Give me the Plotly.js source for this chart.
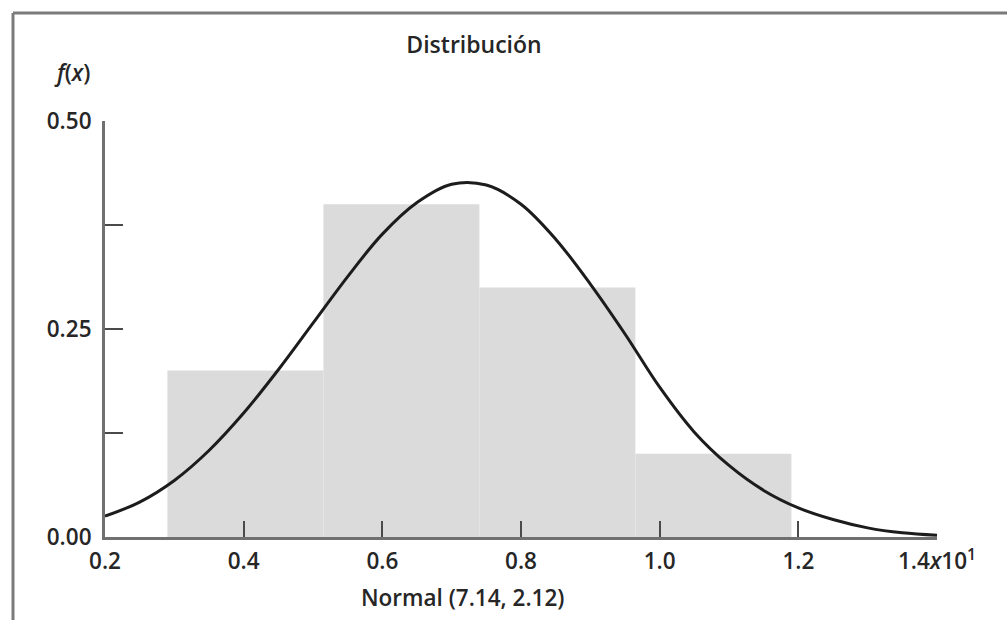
<!DOCTYPE html>
<html>
<head>
<meta charset="utf-8">
<script src="https://cdn.plot.ly/plotly-3.0.1.min.js"></script>
<style>
  html, body { margin: 0; padding: 0; background: #ffffff; }
  #chart { width: 1007px; height: 620px; }
</style>
</head>
<body>
<div id="chart"></div>
<script>
// Histogram (relative frequency), x in units of 10
const binEdges = [0.29, 0.515, 0.74, 0.965, 1.19];
const relFreq = [0.20, 0.40, 0.30, 0.10];

// Fitted normal curve
const curveX = [0.20, 0.25, 0.30, 0.35, 0.40, 0.45, 0.50, 0.55, 0.60, 0.65, 0.70, 0.75, 0.80, 0.85, 0.90, 0.95, 1.00, 1.05, 1.10, 1.15, 1.20, 1.25, 1.30, 1.35, 1.40];
const curveY = [0.025, 0.042, 0.068, 0.104, 0.149, 0.201, 0.257, 0.313, 0.364, 0.402, 0.424, 0.423, 0.400, 0.358, 0.304, 0.244, 0.180, 0.126, 0.086, 0.056, 0.035, 0.021, 0.011, 0.005, 0.002];

// Axis ticks
const xTickVals = [0.2, 0.4, 0.6, 0.8, 1.0, 1.2, 1.4];
const xTickText = ['0.2', '0.4', '0.6', '0.8', '1.0', '1.2', '1.4<i>x</i>10<sup>1</sup>'];
const yTickVals = [0, 0.25, 0.5];
const yTickText = ['0.00', '0.25', '0.50'];
const yMinorStep = 0.125;

const titleText = 'Distribución';
const xLabel = 'Normal (7.14, 2.12)';
const yLabel = '<i>f</i>(<i>x</i>)';

const barX = [], barW = [];
for (let i = 0; i < relFreq.length; i++) {
  barX.push((binEdges[i] + binEdges[i + 1]) / 2);
  barW.push(binEdges[i + 1] - binEdges[i]);
}

const FONT = '"Open Sans", "Noto Sans", sans-serif';
const TXT = '#262626';
const FS = 22.5;

const traces = [
  {
    type: 'bar', x: barX, y: relFreq, width: barW,
    marker: { color: '#dbdbdb', line: { width: 0 } },
    hoverinfo: 'skip', showlegend: false
  },
  {
    type: 'scatter', mode: 'lines', x: curveX, y: curveY,
    line: { color: '#1c1c1c', width: 3, shape: 'spline', smoothing: 1 },
    hoverinfo: 'skip', showlegend: false
  }
];

const layout = {
  width: 1007, height: 620,
  margin: { l: 105, r: 70, t: 121, b: 83, pad: 0 },
  paper_bgcolor: '#ffffff', plot_bgcolor: '#ffffff',
  font: { family: FONT, size: FS, color: TXT, weight: 600 },
  showlegend: false,
  title: {
    text: titleText,
    font: { family: FONT, size: 23, color: TXT, weight: 600 },
    x: 0.4435, xref: 'paper', xanchor: 'center',
    y: 1 - 45 / 620, yref: 'container', yanchor: 'middle'
  },
  xaxis: {
    range: [0.2, 1.4], showgrid: false, zeroline: false,
    showline: true, linecolor: '#707070', linewidth: 3,
    ticks: 'inside', ticklen: 16, tickwidth: 2, tickcolor: '#4a4a4a',
    tickmode: 'array', tickvals: xTickVals, ticktext: xTickText,
    tickfont: { family: FONT, size: FS, color: TXT, weight: 600 },
    ticklabelstandoff: 2,
    fixedrange: true
  },
  yaxis: {
    range: [0, 0.5], showgrid: false, zeroline: false,
    showline: true, linecolor: '#707070', linewidth: 3,
    ticks: 'inside', ticklen: 18, tickwidth: 2, tickcolor: '#4a4a4a',
    tickmode: 'array', tickvals: yTickVals, ticktext: yTickText,
    minor: { tick0: 0, dtick: yMinorStep, ticks: 'inside', ticklen: 18, tickwidth: 2, tickcolor: '#4a4a4a', showgrid: false },
    tickfont: { family: FONT, size: FS, color: TXT, weight: 600 },
    ticklabelstandoff: 6,
    fixedrange: true
  },
  annotations: [
    {
      text: yLabel, xref: 'paper', yref: 'paper',
      x: (72 - 105) / 832, y: 1 + (121 - 72) / 416,
      xanchor: 'center', yanchor: 'middle', showarrow: false,
      font: { family: FONT, size: FS, color: TXT, weight: 600 }
    },
    {
      text: xLabel, xref: 'paper', yref: 'paper',
      x: (462 - 105) / 832, y: -(597 - 537) / 416,
      xanchor: 'center', yanchor: 'middle', showarrow: false,
      font: { family: FONT, size: FS, color: TXT, weight: 600 }
    }
  ],
  shapes: [
    {
      type: 'line', xref: 'paper', yref: 'paper',
      x0: (13 - 105) / 832, x1: (13 - 105) / 832,
      y0: 1 + (121 - 13) / 416, y1: -0.3,
      line: { color: '#7a7a7a', width: 3 }
    },
    {
      type: 'line', xref: 'paper', yref: 'paper',
      x0: (13 - 105) / 832, x1: 1.2,
      y0: 1 + (121 - 13) / 416, y1: 1 + (121 - 13) / 416,
      line: { color: '#7a7a7a', width: 3 }
    }
  ]
};

Plotly.newPlot('chart', traces, layout, { displayModeBar: false, staticPlot: true });
</script>
</body>
</html>
